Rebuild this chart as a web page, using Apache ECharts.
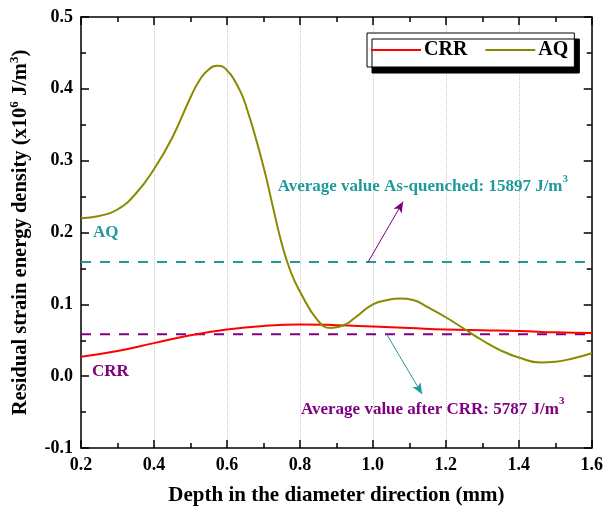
<!DOCTYPE html>
<html>
<head>
<meta charset="utf-8">
<script src="https://cdn.jsdelivr.net/npm/echarts@6/dist/echarts.min.js"></script>
<style>
  html, body { margin: 0; padding: 0; background: #fff; }
  #main { width: 606px; height: 513px; }
</style>
</head>
<body>
<div id="main"></div>
<script>
// 曲线数据 (depth mm, energy x10^6 J/m^3)
var aqX = [0.2, 0.25, 0.3, 0.35, 0.4, 0.45, 0.5, 0.525, 0.55, 0.575, 0.6, 0.625, 0.65, 0.7, 0.725, 0.75, 0.775, 0.8, 0.85, 0.885, 0.925, 0.95, 1.0, 1.04, 1.075, 1.11, 1.15, 1.2, 1.25, 1.3, 1.35, 1.4, 1.46, 1.5, 1.55, 1.6];
var aqY = [0.220, 0.223, 0.232, 0.254, 0.288, 0.332, 0.388, 0.412, 0.427, 0.432, 0.426, 0.408, 0.380, 0.292, 0.238, 0.185, 0.145, 0.118, 0.077, 0.067, 0.072, 0.081, 0.100, 0.106, 0.108, 0.106, 0.096, 0.082, 0.066, 0.050, 0.036, 0.026, 0.019, 0.020, 0.025, 0.032];
var crrX = [0.2, 0.3, 0.4, 0.5, 0.6, 0.7, 0.8, 0.9, 1.0, 1.1, 1.2, 1.3, 1.4, 1.5, 1.6];
var crrY = [0.027, 0.035, 0.046, 0.057, 0.065, 0.070, 0.072, 0.071, 0.069, 0.067, 0.065, 0.064, 0.063, 0.061, 0.060];
// 平均值
var avgAQ = 0.159;
var avgCRR = 0.0583;
var xRange = [0.2, 1.6];
var yRange = [-0.1, 0.5];

var font = '"Liberation Serif", "Times New Roman", serif';
var red = '#ff0000', olive = '#8a8a00', teal = '#1f9a9a', purple = '#800080';

function pairs(xs, ys) {
    var out = [];
    for (var i = 0; i < xs.length; i++) out.push([xs[i], ys[i]]);
    return out;
}

var chart = echarts.init(document.getElementById('main'));

var option = {
    animation: false,
    backgroundColor: '#fff',
    grid: { left: 81, right: 13, top: 17, bottom: 65 },
    legend: {
        left: 367, top: 33,
        data: ['CRR', 'AQ'],
        icon: 'rect',
        itemWidth: 50, itemHeight: 2, itemGap: 18,
        padding: [7, 6, 7, 4],
        backgroundColor: '#fff',
        borderColor: '#000', borderWidth: 1,
        shadowColor: '#000', shadowBlur: 0, shadowOffsetX: 5, shadowOffsetY: 6,
        textStyle: { fontFamily: font, fontWeight: 'bold', fontSize: 20, color: '#000', padding: [0, 0, 0, -2] }
    },
    xAxis: [{
        type: 'value',
        min: xRange[0], max: xRange[1], interval: 0.2,
        name: 'Depth in the diameter direction (mm)',
        nameLocation: 'middle', nameGap: 37,
        nameTextStyle: { fontFamily: font, fontWeight: 'bold', fontSize: 21, color: '#000' },
        axisLine: { onZero: false, lineStyle: { color: '#000', width: 1.5 } },
        axisTick: { inside: true, length: 8, lineStyle: { color: '#000', width: 1.5 } },
        minorTick: { show: true, splitNumber: 2, length: 5, lineStyle: { color: '#000', width: 1.5 } },
        axisLabel: {
            margin: 8, fontFamily: font, fontWeight: 'bold', fontSize: 18, color: '#000',
            formatter: function (v) { return v.toFixed(1); }
        },
        splitLine: { show: true, lineStyle: { color: '#c8c8c8', type: 'dotted', width: 1 } }
    }, {
        type: 'value', position: 'top',
        min: xRange[0], max: xRange[1], interval: 0.2,
        axisLine: { onZero: false, lineStyle: { color: '#000', width: 1.5 } },
        axisTick: { inside: true, length: 8, lineStyle: { color: '#000', width: 1.5 } },
        minorTick: { show: true, splitNumber: 2, length: 5, lineStyle: { color: '#000', width: 1.5 } },
        axisLabel: { show: false },
        splitLine: { show: false }
    }],
    yAxis: [{
        type: 'value',
        min: yRange[0], max: yRange[1], interval: 0.1,
        name: 'Residual strain energy density (x10{sup|6} J/m{sup|3})',
        nameLocation: 'middle', nameGap: 47,
        nameTextStyle: {
            fontFamily: font, fontWeight: 'bold', fontSize: 20.5, color: '#000', lineHeight: 25,
            rich: { sup: { fontFamily: font, fontWeight: 'bold', fontSize: 13, verticalAlign: 'top', lineHeight: 25, color: '#000' } }
        },
        axisLine: { onZero: false, lineStyle: { color: '#000', width: 1.5 } },
        axisTick: { inside: true, length: 8, lineStyle: { color: '#000', width: 1.5 } },
        minorTick: { show: true, splitNumber: 2, length: 5, lineStyle: { color: '#000', width: 1.5 } },
        axisLabel: {
            margin: 8, fontFamily: font, fontWeight: 'bold', fontSize: 18, color: '#000',
            formatter: function (v) { return v.toFixed(1); }
        },
        splitLine: { show: false }
    }, {
        type: 'value', position: 'right',
        min: yRange[0], max: yRange[1], interval: 0.1,
        axisLine: { onZero: false, lineStyle: { color: '#000', width: 1.5 } },
        axisTick: { inside: true, length: 8, lineStyle: { color: '#000', width: 1.5 } },
        minorTick: { show: true, splitNumber: 2, length: 5, lineStyle: { color: '#000', width: 1.5 } },
        axisLabel: { show: false },
        splitLine: { show: false }
    }],
    series: [
        {
            name: 'AQ avg', type: 'line', silent: true,
            data: [[xRange[0], avgAQ], [xRange[1], avgAQ]],
            symbol: 'none',
            lineStyle: { color: teal, width: 2, type: [10, 9] },
            markLine: {
                silent: true, symbol: ['none', 'arrow'], symbolSize: [7, 11],
                label: { show: false },
                lineStyle: { color: purple, type: 'solid', width: 1 },
                data: [[{ coord: [0.987, avgAQ] }, { coord: [1.083, 0.243] }]]
            }
        },
        {
            name: 'CRR avg', type: 'line', silent: true,
            data: [[xRange[0], avgCRR], [xRange[1], avgCRR]],
            symbol: 'none',
            lineStyle: { color: purple, width: 2, type: [10, 9] },
            markLine: {
                silent: true, symbol: ['none', 'arrow'], symbolSize: [7, 11],
                label: { show: false },
                lineStyle: { color: teal, type: 'solid', width: 1 },
                data: [[{ coord: [1.038, avgCRR] }, { coord: [1.135, -0.025] }]]
            }
        },
        {
            name: 'CRR', type: 'line', smooth: 0.5,
            data: pairs(crrX, crrY),
            symbol: 'none', color: red,
            lineStyle: { color: red, width: 2 }
        },
        {
            name: 'AQ', type: 'line', smooth: 0.5,
            data: pairs(aqX, aqY),
            symbol: 'none', color: olive,
            lineStyle: { color: olive, width: 2 }
        }
    ]
};

chart.setOption(option);

// 文字标注
function px(x, y) { return chart.convertToPixel({ xAxisIndex: 0, yAxisIndex: 0 }, [x, y]); }
var supRich = function (c) {
    return {
        t: { font: 'bold 17px ' + font, fill: c, lineHeight: 22, verticalAlign: 'bottom' },
        sup: { font: 'bold 11px ' + font, fill: c, lineHeight: 22, verticalAlign: 'top' }
    };
};
var pAQ = px(0.233, 0.2), pCRR = px(0.23, 0.006);
var pT1 = px(1.137, 0.267), pT2 = px(1.164, -0.043);
chart.setOption({
    graphic: [
        { type: 'text', x: pAQ[0], y: pAQ[1], style: { text: 'AQ', fill: teal, font: 'bold 17px ' + font, verticalAlign: 'middle' } },
        { type: 'text', x: pCRR[0], y: pCRR[1], style: { text: 'CRR', fill: purple, font: 'bold 17px ' + font, verticalAlign: 'middle' } },
        { type: 'text', x: pT1[0], y: pT1[1], style: { text: '{t|Average value As-quenched: 15897 J/m}{sup|3}', fill: teal, rich: supRich(teal), align: 'center', verticalAlign: 'middle' } },
        { type: 'text', x: pT2[0], y: pT2[1], style: { text: '{t|Average value after CRR: 5787 J/m}{sup|3}', fill: purple, rich: supRich(purple), align: 'center', verticalAlign: 'middle' } }
    ]
});
</script>
</body>
</html>
